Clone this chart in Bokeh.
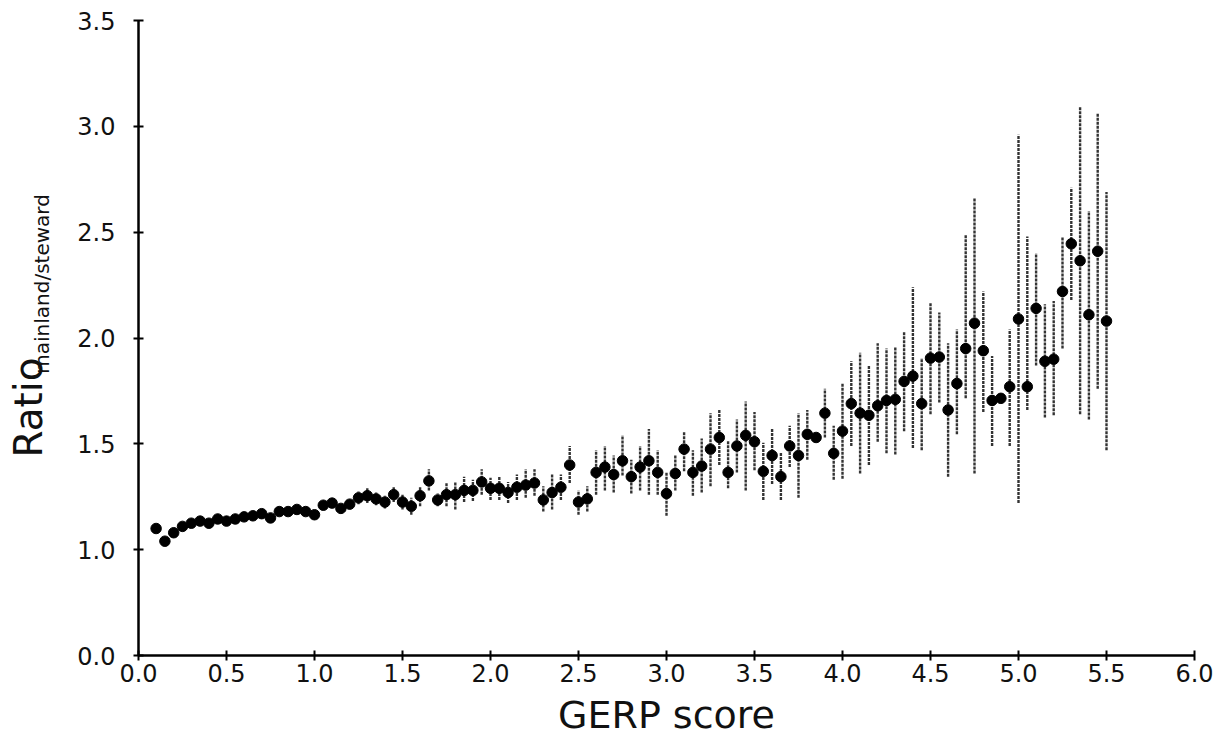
from math import pi
from bokeh.plotting import figure
from bokeh.layouts import row
from bokeh.models import Range1d, FixedTicker, ColumnDataSource
from bokeh.core.properties import value
from bokeh.embed import file_html
from bokeh.resources import INLINE

# GERP score bins
gerp = [0.10, 0.15, 0.20, 0.25, 0.30, 0.35, 0.40, 0.45, 0.50, 0.55,
        0.60, 0.65, 0.70, 0.75, 0.80, 0.85, 0.90, 0.95, 1.00, 1.05,
        1.10, 1.15, 1.20, 1.25, 1.30, 1.35, 1.40, 1.45, 1.50, 1.55,
        1.60, 1.65, 1.70, 1.75, 1.80, 1.85, 1.90, 1.95, 2.00, 2.05,
        2.10, 2.15, 2.20, 2.25, 2.30, 2.35, 2.40, 2.45, 2.50, 2.55,
        2.60, 2.65, 2.70, 2.75, 2.80, 2.85, 2.90, 2.95, 3.00, 3.05,
        3.10, 3.15, 3.20, 3.25, 3.30, 3.35, 3.40, 3.45, 3.50, 3.55,
        3.60, 3.65, 3.70, 3.75, 3.80, 3.85, 3.90, 3.95, 4.00, 4.05,
        4.10, 4.15, 4.20, 4.25, 4.30, 4.35, 4.40, 4.45, 4.50, 4.55,
        4.60, 4.65, 4.70, 4.75, 4.80, 4.85, 4.90, 4.95, 5.00, 5.05,
        5.10, 5.15, 5.20, 5.25, 5.30, 5.35, 5.40, 5.45, 5.50]

ratio = [1.10, 1.04, 1.08, 1.11, 1.125, 1.135, 1.125, 1.145, 1.135, 1.145,
         1.155, 1.16, 1.17, 1.15, 1.18, 1.18, 1.19, 1.18, 1.165, 1.21,
         1.22, 1.195, 1.215, 1.245, 1.255, 1.24, 1.225, 1.26, 1.225, 1.205,
         1.255, 1.325, 1.235, 1.26, 1.26, 1.28, 1.28, 1.32, 1.29, 1.29,
         1.27, 1.295, 1.305, 1.315, 1.235, 1.27, 1.295, 1.40, 1.225, 1.24,
         1.365, 1.39, 1.355, 1.42, 1.345, 1.39, 1.42, 1.365, 1.265, 1.36,
         1.475, 1.365, 1.395, 1.475, 1.53, 1.365, 1.49, 1.54, 1.51, 1.37,
         1.445, 1.345, 1.49, 1.445, 1.545, 1.53, 1.645, 1.455, 1.56, 1.69,
         1.645, 1.635, 1.68, 1.705, 1.71, 1.795, 1.82, 1.69, 1.905, 1.91,
         1.66, 1.785, 1.95, 2.07, 1.94, 1.705, 1.715, 1.77, 2.09, 1.77,
         2.14, 1.89, 1.90, 2.22, 2.445, 2.365, 2.11, 2.41, 2.08]

ratio_low = [1.09, 1.03, 1.07, 1.10, 1.115, 1.125, 1.115, 1.135, 1.125, 1.135,
             1.145, 1.15, 1.16, 1.14, 1.17, 1.17, 1.175, 1.165, 1.15, 1.195,
             1.205, 1.18, 1.195, 1.215, 1.22, 1.21, 1.195, 1.225, 1.19, 1.165,
             1.205, 1.28, 1.205, 1.205, 1.19, 1.225, 1.23, 1.26, 1.235, 1.235,
             1.22, 1.235, 1.245, 1.255, 1.18, 1.19, 1.235, 1.315, 1.165, 1.18,
             1.26, 1.28, 1.27, 1.35, 1.265, 1.28, 1.26, 1.26, 1.16, 1.28,
             1.37, 1.255, 1.27, 1.30, 1.40, 1.29, 1.365, 1.28, 1.375, 1.235,
             1.31, 1.235, 1.39, 1.245, 1.425, 1.52, 1.53, 1.33, 1.335, 1.49,
             1.36, 1.40, 1.51, 1.455, 1.45, 1.56, 1.48, 1.47, 1.64, 1.695,
             1.345, 1.545, 1.715, 1.36, 1.65, 1.49, 1.70, 1.49, 1.22, 1.66,
             1.87, 1.625, 1.635, 1.95, 2.18, 1.64, 1.615, 1.76, 1.47]

ratio_high = [1.11, 1.05, 1.09, 1.12, 1.135, 1.145, 1.135, 1.155, 1.145, 1.155,
              1.165, 1.17, 1.18, 1.16, 1.19, 1.19, 1.205, 1.195, 1.18, 1.225,
              1.235, 1.21, 1.235, 1.275, 1.29, 1.27, 1.255, 1.295, 1.26, 1.245,
              1.30, 1.38, 1.265, 1.315, 1.32, 1.345, 1.33, 1.38, 1.34, 1.345,
              1.32, 1.355, 1.38, 1.38, 1.30, 1.355, 1.355, 1.49, 1.28, 1.30,
              1.47, 1.49, 1.445, 1.54, 1.425, 1.49, 1.57, 1.47, 1.365, 1.445,
              1.56, 1.47, 1.525, 1.645, 1.665, 1.515, 1.615, 1.70, 1.65, 1.505,
              1.575, 1.46, 1.585, 1.645, 1.66, 1.54, 1.76, 1.585, 1.785, 1.89,
              1.93, 1.87, 1.975, 1.95, 1.96, 2.03, 2.24, 1.905, 2.165, 2.12,
              1.975, 2.04, 2.49, 2.66, 2.22, 1.915, 1.73, 2.04, 2.96, 2.48,
              2.40, 2.16, 2.175, 2.48, 2.71, 3.09, 2.60, 3.06, 2.69]

x_ticks = [0.0, 0.5, 1.0, 1.5, 2.0, 2.5, 3.0, 3.5, 4.0, 4.5, 5.0, 5.5, 6.0]
x_tick_labels = ["0.0", "0.5", "1.0", "1.5", "2.0", "2.5", "3.0", "3.5",
                 "4.0", "4.5", "5.0", "5.5", "6.0"]
y_ticks = [0.5, 1.0, 1.5, 2.0, 2.5, 3.0, 3.5]
y_tick_labels = ["0.0", "1.0", "1.5", "2.0", "2.5", "3.0", "3.5"]

x_title = "GERP score"
y_title_main = "Ratio"
y_title_sub = "mainland/steward"

FONT = "DejaVu Sans"
INK = "#111111"
TITLE_W = 60

# --- narrow strip holding the rotated y-axis title (pixel-space ranges) ---
t = figure(width=TITLE_W, height=740, x_range=Range1d(0, TITLE_W), y_range=Range1d(0, 740),
           output_backend="svg", toolbar_location=None,
           x_axis_type=None, y_axis_type=None,
           min_border_left=0, min_border_right=0, min_border_top=0, min_border_bottom=0,
           background_fill_color="white", border_fill_color="white")
t.grid.visible = False
t.outline_line_color = None
t.text(x=[28], y=[289], text=[y_title_main], angle=pi / 2,
       text_font=value(FONT), text_font_size=value("39px"), text_color=INK,
       text_align="center", text_baseline="middle")
t.text(x=[41], y=[433], text=[y_title_sub], angle=pi / 2,
       text_font=value(FONT), text_font_size=value("20px"), text_color=INK,
       text_align="center", text_baseline="middle")

# --- main plot ---
src = ColumnDataSource(dict(x=gerp, y=ratio, low=ratio_low, high=ratio_high))

p = figure(width=1226 - TITLE_W, height=740,
           x_range=Range1d(0, 6), y_range=Range1d(0.5, 3.5),
           output_backend="svg", toolbar_location=None,
           min_border_left=138 - TITLE_W, min_border_right=32,
           min_border_top=20, min_border_bottom=85,
           background_fill_color="white", border_fill_color="white")

p.segment(x0="x", y0="low", x1="x", y1="high", source=src,
          line_color="#333333", line_width=2.4, line_dash="3 1")
p.scatter("x", "y", source=src, size=10.5, fill_color="black", line_color="black")

p.grid.visible = False
p.outline_line_color = None

for ax in (p.xaxis[0], p.yaxis[0]):
    ax.axis_line_color = "black"
    ax.axis_line_width = 2.5
    ax.major_tick_line_color = "black"
    ax.major_tick_line_width = 2
    ax.major_tick_in = 5
    ax.major_tick_out = 5
    ax.minor_tick_in = 0
    ax.minor_tick_out = 0
    ax.major_label_text_font = FONT
    ax.major_label_text_font_size = "24px"
    ax.major_label_text_color = INK

p.xaxis.ticker = FixedTicker(ticks=x_ticks)
p.xaxis.major_label_overrides = dict(zip(x_ticks, x_tick_labels))
p.xaxis.major_label_standoff = 3
p.xaxis.axis_label = x_title
p.xaxis.axis_label_text_font = FONT
p.xaxis.axis_label_text_font_size = "38px"
p.xaxis.axis_label_text_font_style = "normal"
p.xaxis.axis_label_text_color = INK
p.xaxis.axis_label_standoff = 8

p.yaxis.ticker = FixedTicker(ticks=y_ticks)
p.yaxis.major_label_overrides = dict(zip(y_ticks, y_tick_labels))
p.yaxis.major_label_standoff = 18

layout = row(t, p)
open("out.html", "w").write(file_html(layout, INLINE))
